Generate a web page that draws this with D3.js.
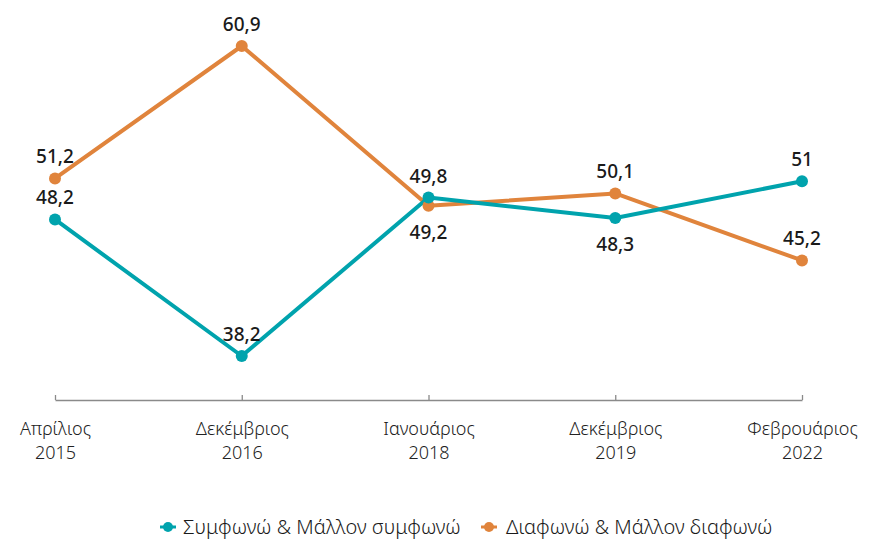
<!DOCTYPE html>
<html>
<head>
<meta charset="utf-8">
<script src="https://cdn.jsdelivr.net/npm/d3@7"></script>
<style>
  html, body { margin: 0; padding: 0; background: #ffffff; }
  svg { display: block; }
</style>
</head>
<body>
<svg id="chart" width="869" height="542"></svg>
<script>
// Survey waves (two-line labels: month / year)
const months = ["Απρίλιος", "Δεκέμβριος", "Ιανουάριος", "Δεκέμβριος", "Φεβρουάριος"];
const years = ["2015", "2016", "2018", "2019", "2022"];
const waves = months.map((m, i) => m + " " + years[i]);

// Series values (%)
const agreeValues = [48.2, 38.2, 49.8, 48.3, 51];
const disagreeValues = [51.2, 60.9, 49.2, 50.1, 45.2];

// Label placement per point: true = above the marker, false = below
const agreeLabelAbove = [true, true, true, false, true];
const disagreeLabelAbove = [true, true, false, true, true];

const seriesNames = ["Συμφωνώ & Μάλλον συμφωνώ", "Διαφωνώ & Μάλλον διαφωνώ"];
const seriesColors = ["#00A3AD", "#E0843C"];

const series = [
  { name: seriesNames[0], color: seriesColors[0], values: agreeValues, above: agreeLabelAbove },
  { name: seriesNames[1], color: seriesColors[1], values: disagreeValues, above: disagreeLabelAbove }
];

const FONT = "'Noto Sans', 'Open Sans', sans-serif";

const svg = d3.select("#chart");

const x = d3.scalePoint().domain(waves).range([55, 802]);
const allValues = agreeValues.concat(disagreeValues);
const y = d3.scaleLinear().domain(d3.extent(allValues)).range([356, 46]);

const fmt = v => String(v).replace(".", ",");

// X axis: baseline with short upward ticks
const axisY = 400;
const axis = d3.axisBottom(x).tickSizeInner(-5).tickSizeOuter(0).tickPadding(0);
const gAxis = svg.append("g").attr("transform", `translate(0,${axisY})`).call(axis);
gAxis.select(".domain").attr("stroke", "#8a8a8a").attr("stroke-width", 1.3);
gAxis.selectAll(".tick line").attr("stroke", "#8a8a8a").attr("stroke-width", 1.3);
gAxis.selectAll(".tick text").remove();
gAxis.selectAll(".tick").each(function(d, i) {
  const g = d3.select(this);
  const styleText = t => t
    .attr("x", 0)
    .attr("text-anchor", "middle")
    .attr("fill", "#222")
    .style("font-family", FONT)
    .style("font-weight", 300)
    .style("font-size", "18px");
  styleText(g.append("text")).attr("y", 35).text(months[i]);
  styleText(g.append("text")).attr("y", 59).text(years[i]);
});

const line = d3.line().x((d, i) => x(waves[i])).y(d => y(d));

// Lines (orange drawn first, teal on top)
const order = [series[1], series[0]];
order.forEach(s => {
  svg.append("path")
    .datum(s.values)
    .attr("fill", "none")
    .attr("stroke", s.color)
    .attr("stroke-width", 4)
    .attr("stroke-linejoin", "round")
    .attr("d", line);
});
order.forEach(s => {
  svg.append("g").selectAll("circle")
    .data(s.values)
    .join("circle")
    .attr("cx", (d, i) => x(waves[i]))
    .attr("cy", d => y(d))
    .attr("r", 6)
    .attr("fill", s.color);
});

// Value labels
series.forEach(s => {
  svg.append("g").selectAll("text")
    .data(s.values)
    .join("text")
    .attr("x", (d, i) => x(waves[i]))
    .attr("y", (d, i) => s.above[i] ? y(d) - 15 : y(d) + 33)
    .attr("text-anchor", "middle")
    .attr("fill", "#1a1a1a")
    .style("font-family", FONT)
    .style("font-weight", 500)
    .style("font-size", "19px")
    .text(d => fmt(d));
});

// Legend
const legendY = 527;
const legendItems = [
  { x: 168, textX: 183 },
  { x: 489, textX: 506 }
];
series.forEach((s, i) => {
  const g = svg.append("g");
  g.append("line")
    .attr("x1", legendItems[i].x - 8).attr("x2", legendItems[i].x + 8)
    .attr("y1", legendY).attr("y2", legendY)
    .attr("stroke", s.color).attr("stroke-width", 3);
  g.append("circle")
    .attr("cx", legendItems[i].x).attr("cy", legendY).attr("r", 5)
    .attr("fill", s.color);
  g.append("text")
    .attr("x", legendItems[i].textX).attr("y", legendY + 7)
    .attr("fill", "#1a1a1a")
    .style("font-family", FONT)
    .style("font-weight", 300)
    .style("font-size", "20px")
    .text(s.name);
});
</script>
</body>
</html>
